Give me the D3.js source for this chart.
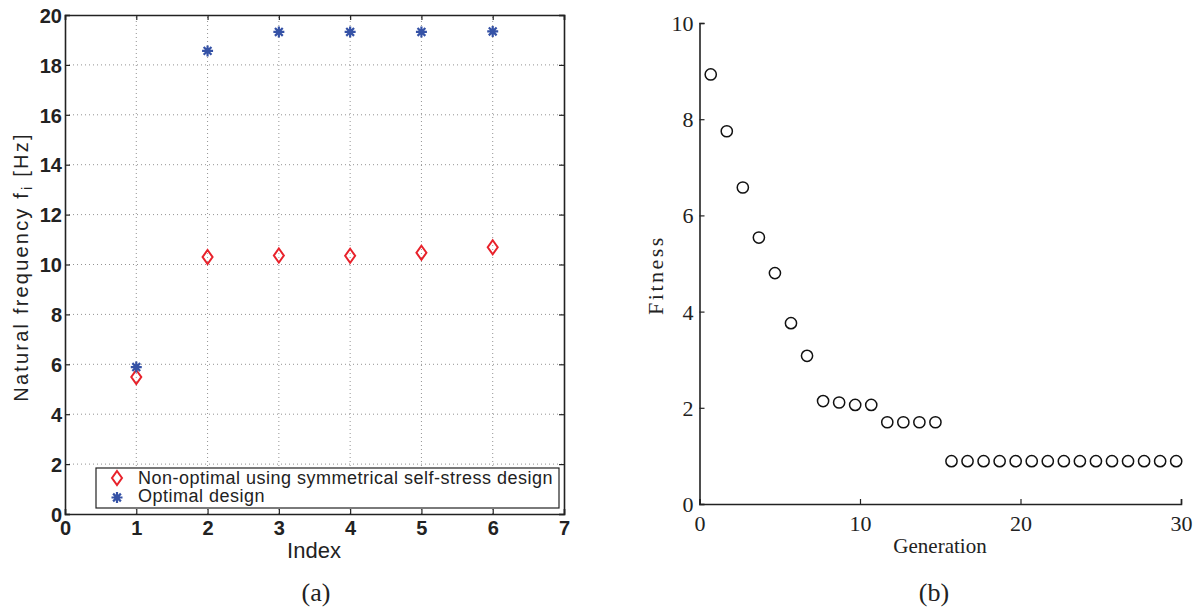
<!DOCTYPE html>
<html>
<head>
<meta charset="utf-8">
<script src="https://cdn.jsdelivr.net/npm/d3@7"></script>
<style>
  body { margin: 0; background: #fff; }
  svg { display: block; }
</style>
</head>
<body>
<svg id="chart" width="1198" height="611"></svg>
<script>
// ---- data (a): natural frequencies ----
const modeIndex = [1, 2, 3, 4, 5, 6];
const nonOptimalFreq = [5.49, 10.30, 10.36, 10.35, 10.47, 10.69];
const optimalFreq = [5.89, 18.56, 19.32, 19.32, 19.32, 19.34];
const xTicksA = [0, 1, 2, 3, 4, 5, 6, 7];
const yTicksA = [0, 2, 4, 6, 8, 10, 12, 14, 16, 18, 20];

// ---- data (b): fitness per generation ----
const generation = [0.7, 1.7, 2.7, 3.7, 4.7, 5.7, 6.7, 7.7, 8.7, 9.7,
  10.7, 11.7, 12.7, 13.7, 14.7, 15.7, 16.7, 17.7, 18.7, 19.7,
  20.7, 21.7, 22.7, 23.7, 24.7, 25.7, 26.7, 27.7, 28.7, 29.7];
const fitness = [8.93, 7.75, 6.58, 5.54, 4.80, 3.76, 3.08, 2.14, 2.11, 2.06,
  2.06, 1.70, 1.70, 1.70, 1.70, 0.89, 0.89, 0.89, 0.89, 0.89,
  0.89, 0.89, 0.89, 0.89, 0.89, 0.89, 0.89, 0.89, 0.89, 0.89];
const xTicksB = [0, 10, 20, 30];
const yTicksB = [0, 2, 4, 6, 8, 10];

const svg = d3.select("#chart");
const sans = "'Liberation Sans', Arial, sans-serif";
const serif = "'Liberation Serif', 'DejaVu Serif', serif";

// ================= panel (a) =================
const xA = d3.scaleLinear().domain([0, 7]).range([65, 564]);
const yA = d3.scaleLinear().domain([0, 20]).range([514, 15]);
const gA = svg.append("g");

// dotted grid
gA.append("g").selectAll("line")
  .data(xTicksA.slice(1, -1)).enter().append("line")
  .attr("x1", d => xA(d)).attr("x2", d => xA(d))
  .attr("y1", yA(0)).attr("y2", yA(20))
  .attr("stroke", "#777").attr("stroke-width", 0.8)
  .attr("stroke-dasharray", "1,3");
gA.append("g").selectAll("line")
  .data(yTicksA.slice(1, -1)).enter().append("line")
  .attr("y1", d => yA(d)).attr("y2", d => yA(d))
  .attr("x1", xA(0)).attr("x2", xA(7))
  .attr("stroke", "#777").attr("stroke-width", 0.8)
  .attr("stroke-dasharray", "1,3");

// axes with inward ticks on all sides
const axB = gA.append("g").attr("transform", `translate(0,${yA(0)})`)
  .call(d3.axisBottom(xA).tickValues(xTicksA).tickSize(-5).tickPadding(7).tickFormat(d3.format("d")));
const axT = gA.append("g").attr("transform", `translate(0,${yA(20)})`)
  .call(d3.axisTop(xA).tickValues(xTicksA).tickSize(-5).tickFormat(""));
const axL = gA.append("g").attr("transform", `translate(${xA(0)},0)`)
  .call(d3.axisLeft(yA).tickValues(yTicksA).tickSize(-5).tickPadding(3).tickFormat(d3.format("d")));
const axR = gA.append("g").attr("transform", `translate(${xA(7)},0)`)
  .call(d3.axisRight(yA).tickValues(yTicksA).tickSize(-5).tickFormat(""));
[axB, axT, axL, axR].forEach(a => {
  a.select(".domain").attr("stroke", "#222").attr("stroke-width", 1.6);
  a.selectAll(".tick line").attr("stroke", "#222").attr("stroke-width", 1.2);
  a.selectAll("text")
    .style("font-family", sans).style("font-weight", "700")
    .style("font-size", "20px").attr("fill", "#222");
});
axB.selectAll("text").attr("dy", "0.71em");
axL.selectAll("text").attr("dy", "0.36em");

// markers
const diamond = "M0,-7L5,0L0,7L-5,0Z";
const star = "M-5.5,0H5.5M0,-5.5V5.5M-3.9,-3.9L3.9,3.9M-3.9,3.9L3.9,-3.9";

gA.append("g").selectAll("path")
  .data(modeIndex).enter().append("path")
  .attr("d", diamond)
  .attr("transform", (d, i) => `translate(${xA(d)},${yA(nonOptimalFreq[i])})`)
  .attr("fill", "none").attr("stroke", "#e8222b").attr("stroke-width", 2);

gA.append("g").selectAll("path")
  .data(modeIndex).enter().append("path")
  .attr("d", star)
  .attr("transform", (d, i) => `translate(${xA(d)},${yA(optimalFreq[i])})`)
  .attr("fill", "none").attr("stroke", "#3552a6").attr("stroke-width", 2.2);

// legend
const leg = gA.append("g");
leg.append("rect").attr("x", 96).attr("y", 468).attr("width", 463).attr("height", 40)
  .attr("fill", "#fff").attr("stroke", "#222").attr("stroke-width", 1.2);
leg.append("path").attr("d", diamond).attr("transform", "translate(117,478)")
  .attr("fill", "none").attr("stroke", "#e8222b").attr("stroke-width", 2);
leg.append("path").attr("d", star).attr("transform", "translate(117,497.5)")
  .attr("fill", "none").attr("stroke", "#3552a6").attr("stroke-width", 2.2);
leg.append("text").attr("x", 138).attr("y", 483.5)
  .text("Non-optimal using symmetrical self-stress design");
leg.append("text").attr("x", 138).attr("y", 502)
  .text("Optimal design");
leg.selectAll("text").attr("font-family", sans).attr("font-size", 18)
  .attr("letter-spacing", 0.5).attr("fill", "#222");

// axis labels
gA.append("text").attr("x", 314).attr("y", 558).attr("text-anchor", "middle")
  .attr("font-family", sans).attr("font-size", 22)
  .attr("fill", "#222").text("Index");
const yl = gA.append("text").attr("transform", "translate(28,267) rotate(-90)")
  .attr("text-anchor", "middle").attr("font-family", sans).attr("font-size", 20)
  .attr("letter-spacing", 2.2).attr("fill", "#222");
yl.append("tspan").text("Natural frequency f");
yl.append("tspan").attr("font-size", 14).attr("dy", 4).attr("dx", 1).text("i");
yl.append("tspan").attr("dy", -4).attr("dx", 8).text("[Hz]");

gA.append("text").attr("x", 316).attr("y", 601).attr("text-anchor", "middle")
  .attr("font-family", serif).attr("font-size", 26).attr("fill", "#222").text("(a)");

// ================= panel (b) =================
const xB = d3.scaleLinear().domain([0, 30]).range([699.5, 1181]);
const yB = d3.scaleLinear().domain([0, 10]).range([504, 23]);
const gB = svg.append("g");

const bx = gB.append("g").attr("transform", `translate(0,${yB(0)})`)
  .call(d3.axisBottom(xB).tickValues(xTicksB).tickSize(-5).tickPadding(11).tickFormat(d3.format("d")));
const by = gB.append("g").attr("transform", `translate(${xB(0)},0)`)
  .call(d3.axisLeft(yB).tickValues(yTicksB).tickSize(-5).tickPadding(6).tickFormat(d3.format("d")));
[bx, by].forEach(a => {
  a.select(".domain").attr("stroke", "#222").attr("stroke-width", 1.6);
  a.selectAll(".tick line").attr("stroke", "#222").attr("stroke-width", 1.2);
  a.selectAll("text").attr("font-family", serif).attr("font-size", 22).attr("fill", "#222");
});
bx.selectAll("text").attr("dy", "0.71em");
by.selectAll("text").attr("dy", "0.34em");

gB.append("g").selectAll("circle")
  .data(generation).enter().append("circle")
  .attr("cx", d => xB(d))
  .attr("cy", (d, i) => yB(fitness[i]))
  .attr("r", 5.6)
  .attr("fill", "none").attr("stroke", "#111").attr("stroke-width", 1.5);

gB.append("text").attr("x", 940).attr("y", 553).attr("text-anchor", "middle")
  .attr("font-family", serif).attr("font-size", 21).attr("fill", "#222").text("Generation");
gB.append("text").attr("transform", "translate(663,275) rotate(-90)")
  .attr("text-anchor", "middle").attr("font-family", serif).attr("font-size", 22)
  .attr("letter-spacing", 2.5).attr("fill", "#222").text("Fitness");

gB.append("text").attr("x", 934).attr("y", 601).attr("text-anchor", "middle")
  .attr("font-family", serif).attr("font-size", 26).attr("fill", "#222").text("(b)");
</script>
</body>
</html>
